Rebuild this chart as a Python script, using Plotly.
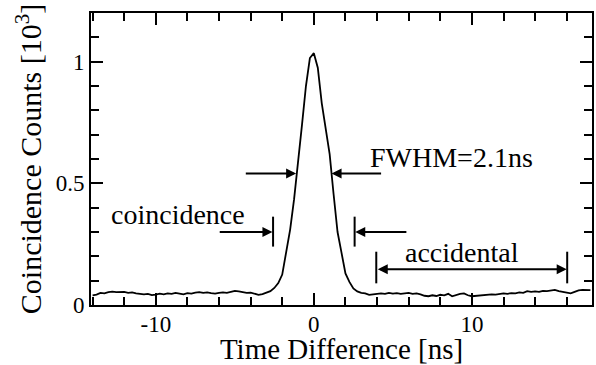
import plotly.graph_objects as go

# Time difference [ns]
time_ns = [
    -14.0, -13.75, -13.5, -13.25, -13.0, -12.75, -12.5, -12.25, -12.0, -11.75,
    -11.5, -11.25, -11.0, -10.75, -10.5, -10.25, -10.0, -9.75, -9.5, -9.25,
    -9.0, -8.75, -8.5, -8.25, -8.0, -7.75, -7.5, -7.25, -7.0, -6.75,
    -6.5, -6.25, -6.0, -5.75, -5.5, -5.25, -5.0, -4.75, -4.5, -4.25,
    -4.0, -3.75, -3.5, -3.25, -3.0, -2.75, -2.5, -2.25, -2.0, -1.75,
    -1.5, -1.25, -1.0, -0.75, -0.5, -0.25, 0.0, 0.25, 0.5, 0.75,
    1.0, 1.25, 1.5, 1.75, 2.0, 2.25, 2.5, 2.75, 3.0, 3.25,
    3.5, 3.75, 4.0, 4.25, 4.5, 4.75, 5.0, 5.25, 5.5, 5.75,
    6.0, 6.25, 6.5, 6.75, 7.0, 7.25, 7.5, 7.75, 8.0, 8.25,
    8.5, 8.75, 9.0, 9.25, 9.5, 9.75, 10.0, 10.25, 10.5, 10.75,
    11.0, 11.25, 11.5, 11.75, 12.0, 12.25, 12.5, 12.75, 13.0, 13.25,
    13.5, 13.75, 14.0, 14.25, 14.5, 14.75, 15.0, 15.25, 15.5, 15.75,
    16.0, 16.25, 16.5, 16.75, 17.0, 17.25, 17.5,
]

# Coincidence counts [10^3]
counts_k = [
    0.040, 0.043, 0.050, 0.048, 0.053, 0.055, 0.053, 0.055, 0.054, 0.050,
    0.052, 0.048, 0.046, 0.044, 0.046, 0.041, 0.043, 0.047, 0.044, 0.048,
    0.046, 0.050, 0.047, 0.044, 0.049, 0.047, 0.051, 0.053, 0.050, 0.052,
    0.049, 0.047, 0.050, 0.052, 0.050, 0.054, 0.058, 0.056, 0.053, 0.050,
    0.051, 0.046, 0.042, 0.045, 0.052, 0.057, 0.070, 0.090, 0.125, 0.225,
    0.310, 0.435, 0.575, 0.740, 0.900, 1.015, 1.035, 0.975, 0.830, 0.715,
    0.620, 0.455, 0.300, 0.215, 0.130, 0.095, 0.068, 0.056, 0.050, 0.048,
    0.042, 0.044, 0.047, 0.048, 0.046, 0.050, 0.047, 0.049, 0.046, 0.048,
    0.050, 0.046, 0.048, 0.044, 0.038, 0.036, 0.040, 0.037, 0.042, 0.040,
    0.046, 0.036, 0.042, 0.046, 0.048, 0.040, 0.036, 0.038, 0.037, 0.040,
    0.041, 0.044, 0.043, 0.046, 0.048, 0.046, 0.049, 0.048, 0.052, 0.050,
    0.057, 0.054, 0.056, 0.054, 0.058, 0.057, 0.060, 0.062, 0.057, 0.055,
    0.050, 0.048, 0.054, 0.060, 0.062, 0.060, 0.061,
]

x_tick_vals = [-10, 0, 10]
x_tick_text = ["-10", "0", "10"]
y_tick_vals = [0, 0.5, 1]
y_tick_text = ["0", "0.5", "1"]

FONT = "Liberation Serif, Times New Roman, serif"

fig = go.Figure()
fig.add_trace(go.Scatter(
    x=time_ns, y=counts_k, mode="lines",
    line=dict(color="black", width=1.8), showlegend=False,
))

axis_common = dict(
    showline=True, linecolor="black", linewidth=2, mirror="ticks",
    ticks="inside", ticklen=12, tickwidth=2, tickcolor="black",
    showgrid=False, zeroline=False,
    tickfont=dict(family=FONT, size=23, color="black"),
)

fig.update_xaxes(
    range=[-14.1, 17.6], tickmode="array", tickvals=x_tick_vals, ticktext=x_tick_text,
    ticklabelstandoff=-3,
    minor=dict(ticks="inside", ticklen=8, tickwidth=2, tickcolor="black", dtick=2, tick0=0, showgrid=False),
    title=dict(text="Time Difference [ns]", font=dict(family=FONT, size=29, color="black"), standoff=5),
    **axis_common,
)
fig.update_yaxes(
    range=[0, 1.2], tickmode="array", tickvals=y_tick_vals, ticktext=y_tick_text,
    minor=dict(ticks="inside", ticklen=8, tickwidth=2, tickcolor="black", dtick=0.1, tick0=0, showgrid=False),
    title=dict(text="Coincidence Counts [10<sup>3</sup>]", font=dict(family=FONT, size=30, color="black"), standoff=5),
    **axis_common,
)

ann_font = dict(family=FONT, size=28, color="black")
arrow_style = dict(showarrow=True, arrowhead=2, arrowsize=1, arrowwidth=2, arrowcolor="black",
                   xref="x", yref="y", axref="x", ayref="y", text="", standoff=0, startstandoff=0)

annotations = [
    # FWHM arrows
    dict(x=-1.12, y=0.54, ax=-4.4, ay=0.54, **arrow_style),
    dict(x=1.12, y=0.54, ax=4.35, ay=0.54, **arrow_style),
    # coincidence window arrows
    dict(x=-2.62, y=0.30, ax=-6.05, ay=0.30, **arrow_style),
    dict(x=2.62, y=0.30, ax=5.95, ay=0.30, **arrow_style),
    # accidental window double arrow
    dict(x=16.0, y=0.147, ax=3.95, ay=0.147, arrowside="end+start", **arrow_style),
    # texts
    dict(x=3.45, y=0.605, text="FWHM=2.1ns", showarrow=False, xref="x", yref="y",
         xanchor="left", yanchor="middle", font=ann_font),
    dict(x=-8.6, y=0.37, text="coincidence", showarrow=False, xref="x", yref="y",
         xanchor="center", yanchor="middle", font=ann_font),
    dict(x=9.4, y=0.215, text="accidental", showarrow=False, xref="x", yref="y",
         xanchor="center", yanchor="middle", font=ann_font),
]

shapes = [
    dict(type="line", xref="x", yref="y", x0=-2.58, x1=-2.58, y0=0.24, y1=0.363,
         line=dict(color="black", width=2)),
    dict(type="line", xref="x", yref="y", x0=2.58, x1=2.58, y0=0.24, y1=0.363,
         line=dict(color="black", width=2)),
    dict(type="line", xref="x", yref="y", x0=3.95, x1=3.95, y0=0.089, y1=0.219,
         line=dict(color="black", width=2)),
    dict(type="line", xref="x", yref="y", x0=16.03, x1=16.03, y0=0.089, y1=0.219,
         line=dict(color="black", width=2)),
]

fig.update_layout(
    width=596, height=365,
    margin=dict(l=91, r=2, t=13, b=60),
    paper_bgcolor="white", plot_bgcolor="white",
    font=dict(family=FONT, color="black"),
    annotations=annotations, shapes=shapes,
)

fig.write_html("out.html")
